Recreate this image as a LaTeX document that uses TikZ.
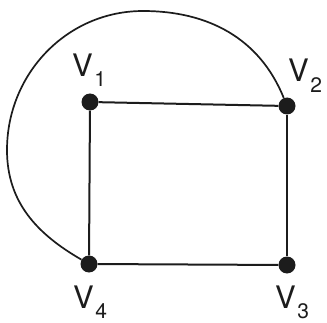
\documentclass[tikz,border=0pt]{standalone}
\usepackage{fontspec}
\setmainfont{TeX Gyre Heros}
\usepackage{tikz}
\usetikzlibrary{positioning}
\definecolor{ink}{RGB}{28,28,28}
\newcommand{\vlab}[1]{V\kern1.5pt\raisebox{-10pt}{\fontsize{21}{21}\selectfont #1}}

\begin{document}
\begin{tikzpicture}[x=1pt, y=1pt,
  vdot/.style={circle, fill=ink, draw=none, minimum size=17pt, inner sep=0pt},
  lbl/.style={anchor=base west, inner sep=0pt, text=ink, font=\fontsize{31}{36}\selectfont},
  edge/.style={draw=ink, line width=2pt},
  arcline/.style={draw=ink, line width=1.7pt}]
  \useasboundingbox (0,0) rectangle (327,322);
  \node[vdot] (v1) at (90,220) {};
  \node[vdot] (v2) at (287,216) {};
  \node[vdot] (v3) at (287,57) {};
  \node[vdot] (v4) at (89,58) {};
  \node[lbl] (l1) at (72,245) {\vlab{1}};
  \node[lbl] (l2) at (288,240) {\vlab{2}};
  \node[lbl] (l3) at (275,14) {\vlab{3}};
  \node[lbl] (l4) at (73,14) {\vlab{4}};
  \draw[edge] (v1) -- (v2);
  \draw[edge] (v2) -- (v3);
  \draw[edge] (v3) -- (v4);
  \draw[edge] (v4) -- (v1);
  \coordinate (arctop) at (143,311);
  \coordinate (arcleft) at (7,172);
  \draw[arcline] (v2) to[out=112, in=0] (arctop) to[out=180, in=90] (arcleft) to[out=270, in=150] (v4);
\end{tikzpicture}
\end{document}
